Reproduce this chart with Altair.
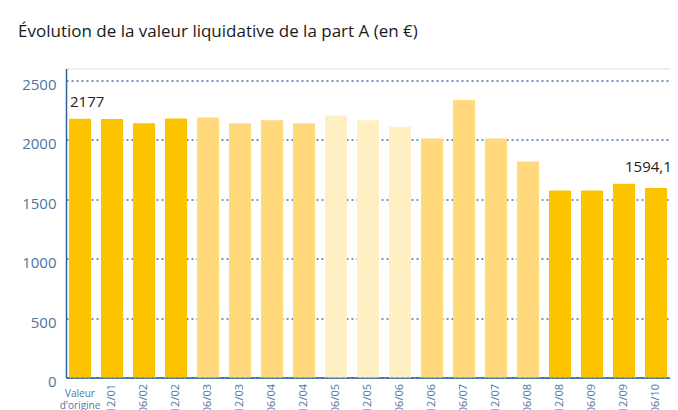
import altair as alt
import pandas as pd

categories = ["Valeur d'origine", "12/01", "06/02", "12/02", "06/03", "12/03", "06/04",
              "12/04", "06/05", "12/05", "06/06", "12/06", "06/07", "12/07", "06/08",
              "12/08", "06/09", "12/09", "06/10"]
values = [2177, 2175, 2140, 2180, 2188, 2140, 2164, 2140, 2205, 2164, 2107, 2010,
          2334, 2010, 1817, 1574, 1574, 1630, 1594.11]
shade = ["fonce", "fonce", "fonce", "fonce", "moyen", "moyen", "moyen", "moyen",
         "clair", "clair", "clair", "moyen", "moyen", "moyen", "moyen",
         "fonce", "fonce", "fonce", "fonce"]
value_labels = ["2177", "", "", "", "", "", "", "", "", "", "", "", "", "", "", "", "", "", "1594,11"]

df = pd.DataFrame({"cat": categories, "val": values, "shade": shade, "lab": value_labels})

W, H = 604, 309
FONT = "Liberation Sans Narrow, Open Sans, sans-serif"
BLUE = "#2F6296"
LBLUE = "#4A76A6"

x = alt.X("cat:N", sort=categories, title=None,
          scale=alt.Scale(paddingInner=0.3125, paddingOuter=0.094),
          axis=alt.Axis(labelAngle=270, labelExpr="datum.index == 0 ? '' : datum.label",
                        labelFont=FONT, labelFontSize=11, labelColor=LBLUE,
                        labelPadding=6, ticks=False, domainColor=BLUE, domainWidth=1.5,
                        grid=False))
y = alt.Y("val:Q", title=None,
          scale=alt.Scale(domain=[0, 2500]),
          axis=alt.Axis(values=[0, 500, 1000, 1500, 2000, 2500], format="d", labelFont=FONT,
                        labelFontSize=15, labelColor=LBLUE, labelPadding=10, labelOffset=4,
                        ticks=False, domainColor=BLUE, domainWidth=1.5, gridColor=BLUE,
                        gridDash=[2, 3], gridWidth=1.3, gridOpacity=0.9))

bars = alt.Chart(df).mark_bar().encode(
    x=x, y=y,
    color=alt.Color("shade:N", legend=None,
                    scale=alt.Scale(domain=["fonce", "moyen", "clair"],
                                    range=["#FCC400", "#FFD97C", "#FFF0C4"])),
)

lab_first = alt.Chart(df).transform_filter("datum.lab == '2177'").mark_text(
    align="left", baseline="bottom", dx=-10, dy=-9, font=FONT, fontSize=15, color="#222222"
).encode(x=alt.X("cat:N", sort=categories), y="val:Q", text="lab:N")

lab_last = alt.Chart(df).transform_filter("datum.lab == '1594,11'").mark_text(
    align="left", baseline="bottom", dx=-31, dy=-13, font=FONT, fontSize=15, color="#222222"
).encode(x=alt.X("cat:N", sort=categories), y="val:Q", text="lab:N")

origin = alt.Chart(df).transform_filter("datum.cat == \"Valeur d'origine\"").mark_text(
    align="center", baseline="top", font=FONT, fontSize=10, color=LBLUE,
    lineBreak="|", lineHeight=12
).encode(x=alt.X("cat:N", sort=categories), y=alt.value(H + 11),
         text=alt.value("Valeur|d'origine"))

chart = alt.layer(bars, lab_first, lab_last, origin).properties(
    width=W, height=H,
    title=alt.TitleParams("Évolution de la valeur liquidative de la part A (en €)",
                          anchor="start", frame="group", dx=-48, offset=28,
                          font=FONT, fontSize=17, fontWeight="normal", color="#1a1a1a"),
    autosize=alt.AutoSizeParams(type="none"),
    padding={"left": 58, "top": 60.5, "right": 0, "bottom": 32},
).configure_view(stroke=None).configure(background="white")

chart.save("out.html", embed_options={"renderer": "svg", "actions": False})
